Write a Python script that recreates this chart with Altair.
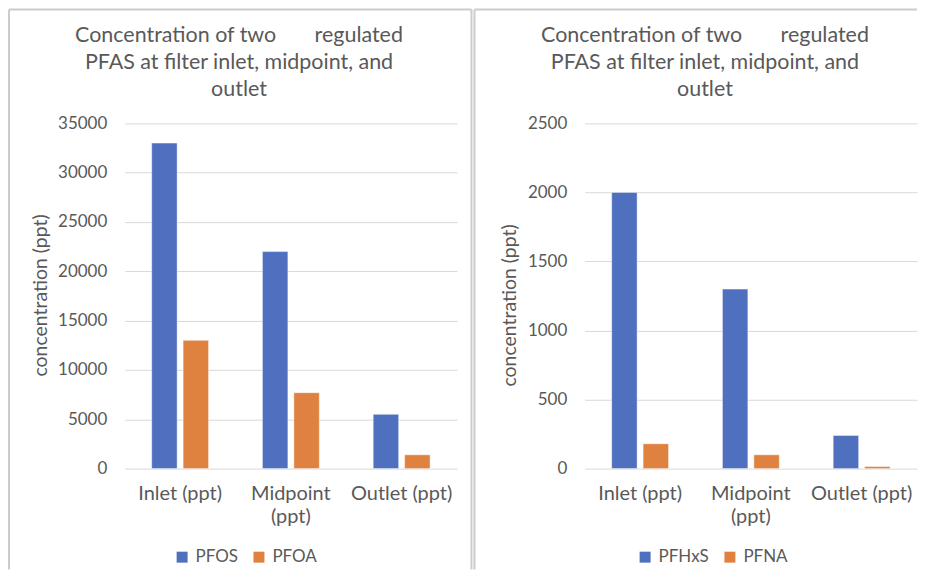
import altair as alt
import pandas as pd

sites = ["Inlet (ppt)", "Midpoint (ppt)", "Outlet (ppt)"]
left_series = ["PFOS", "PFOA"]
pfos = [33000, 22000, 5500]
pfoa = [13000, 7700, 1400]
right_series = ["PFHxS", "PFNA"]
pfhxs = [2000, 1300, 240]
pfna = [180, 100, 15]
left_ticks = [0, 5000, 10000, 15000, 20000, 25000, 30000, 35000]
right_ticks = [0, 500, 1000, 1500, 2000, 2500]
title_lines = ["Concentration of two\u00a0\u00a0\u00a0\u00a0\u00a0\u00a0\u00a0regulated",
               "PFAS at filter inlet, midpoint, and", "outlet"]
y_title = "concentration (ppt)"

BLUE = "#4e70be"
ORANGE = "#e0823f"
TXT = "#595959"
GRID = "#d9d9d9"
BORDER = "#cccccc"
FONT = "Lato"
BAR_W = 25.5
HALF_STEP = 15.75


def make_df(names, a, b):
    rows = []
    for s, v in zip(sites, a):
        rows.append({"site": s, "series": names[0], "value": v})
    for s, v in zip(sites, b):
        rows.append({"site": s, "series": names[1], "value": v})
    return pd.DataFrame(rows)


def border_rule(**enc):
    return alt.Chart(alt.Data(values=[{}])).mark_rule(color=BORDER, strokeWidth=2).encode(**enc)


def panel(df, names, ymax, ticks, left_x, right_x, top_x2, title_dx, ytitle_x, ytitle_y, leg_x):
    x_enc = alt.X("site:N", sort=sites,
                  scale=alt.Scale(paddingInner=0.486, paddingOuter=0.243),
                  axis=alt.Axis(title=None, labelAngle=0, domain=False, ticks=False,
                                labelPadding=15, labelFontSize=20, labelColor=TXT, labelFont=FONT,
                                labelLineHeight=23,
                                labelExpr="datum.label == 'Midpoint (ppt)' ? ['Midpoint', '(ppt)'] : datum.label"))
    y_enc = alt.Y("value:Q", scale=alt.Scale(domain=[0, ymax], nice=False),
                  axis=alt.Axis(values=ticks, format="d", title=y_title, domain=False, ticks=False,
                                tickSize=0, labelPadding=18, labelFontSize=17, labelColor=TXT,
                                labelFont=FONT, gridColor=GRID, gridWidth=1,
                                titleFontSize=19.5, titleFont=FONT, titleColor=TXT,
                                titleFontWeight="normal",
                                titleX=ytitle_x, titleY=ytitle_y, titleAngle=270,
                                titleAlign="center", titleBaseline="middle"))
    c_enc = alt.Color("series:N", sort=names,
                      scale=alt.Scale(domain=names, range=[BLUE, ORANGE]),
                      legend=alt.Legend(title=None, orient="none", direction="horizontal",
                                        legendX=leg_x, legendY=426, symbolType="square",
                                        symbolSize=121, symbolStrokeWidth=0, labelOffset=5,
                                        columnPadding=12, labelFontSize=17, labelColor=TXT,
                                        labelFont=FONT))
    layers = []
    for name, off in zip(names, [-HALF_STEP, HALF_STEP]):
        layers.append(
            alt.Chart(df).transform_filter(alt.datum.series == name)
            .mark_bar(width=BAR_W, xOffset=off, stroke="white", strokeWidth=1, strokeOpacity=0.45)
            .encode(x=x_enc, y=y_enc, color=c_enc)
        )
    rules = [
        border_rule(x=alt.value(left_x), y=alt.value(-114), y2=alt.value(447)),
        border_rule(x=alt.value(left_x), x2=alt.value(top_x2), y=alt.value(-114)),
    ]
    if right_x is not None:
        rules.append(border_rule(x=alt.value(right_x), y=alt.value(-114), y2=alt.value(447)))
    return alt.layer(*rules, *layers).properties(
        width=333, height=346,
        title=alt.TitleParams(text=title_lines, anchor="middle", frame="group", dx=title_dx,
                              offset=-92, fontSize=21.5, font=FONT, color=TXT, fontWeight="normal",
                              lineHeight=27),
    )


left = panel(make_df(left_series, pfos, pfoa), left_series, 35000, left_ticks,
             -116, 347.5, 347.5, -52, -84, 172, 49)
right = panel(make_df(right_series, pfhxs, pfna), right_series, 2500, right_ticks,
              -110.5, None, 333, -46, -75, 182, 52)

chart = (alt.hconcat(left, right, spacing=0)
         .resolve_scale(color="independent")
         .resolve_legend(color="independent")
         .properties(padding=0)
         .configure_view(stroke=None))

chart.save("out.html", embed_options={"renderer": "svg", "actions": False})
